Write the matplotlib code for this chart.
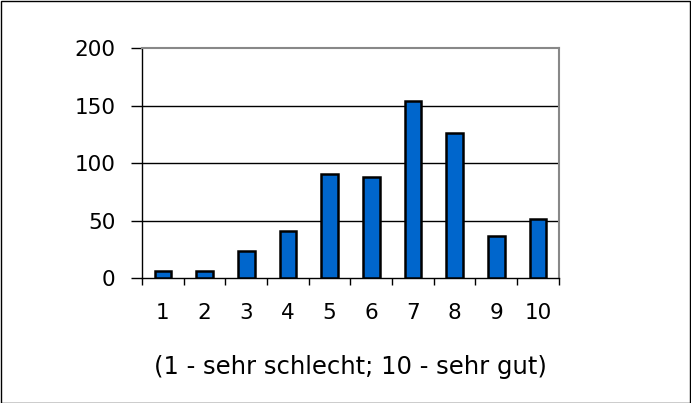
import matplotlib
matplotlib.use("Agg")
import matplotlib.pyplot as plt
from matplotlib.patches import Rectangle

categories = ["1", "2", "3", "4", "5", "6", "7", "8", "9", "10"]
values = [6, 6, 24, 41, 91, 88, 154, 126, 37, 52]
yticks = [0, 50, 100, 150, 200]
xlabel = "(1 - sehr schlecht; 10 - sehr gut)"

plt.rcParams['font.family'] = ['DejaVu Sans']

W, H = 691, 403
fig = plt.figure(figsize=(W / 100, H / 100), dpi=100)
ax = fig.add_axes([142 / W, 1 - 278.3 / H, (558.7 - 142) / W, (278.3 - 48.3) / H])

x = list(range(1, len(categories) + 1))
ax.bar(x, values, width=0.4, color="#0066CC", edgecolor="black", linewidth=1.8, zorder=3)

ax.set_xlim(0.5, len(categories) + 0.5)
ax.set_ylim(0, 200)
ax.set_yticks(yticks)
ax.set_yticklabels([str(v) for v in yticks], fontsize=15.5)
ax.set_xticks(x)
ax.set_xticklabels(categories, fontsize=15.5)
ax.set_xticks([i + 0.5 for i in range(0, len(categories) + 1)], minor=True)
ax.tick_params(axis='x', which='major', length=0, pad=18)
ax.tick_params(axis='x', which='minor', length=5, width=1, direction='out', color='black')
ax.tick_params(axis='y', which='major', length=8, width=1, direction='out', pad=11)

for v in yticks[1:-1]:
    ax.axhline(v, color='black', linewidth=1, zorder=1)

for s in ['top', 'right']:
    ax.spines[s].set_color('#888888')
    ax.spines[s].set_linewidth(1.5)
for s in ['left', 'bottom']:
    ax.spines[s].set_color('black')
    ax.spines[s].set_linewidth(1)

ax.set_xlabel(xlabel, fontsize=17.5, labelpad=23)

fig.patches.append(Rectangle((0.5 / W, 0.5 / H), 1 - 1.5 / W, 1 - 1.5 / H, transform=fig.transFigure,
                             fill=False, edgecolor='black', linewidth=1))

fig.savefig("out.png", dpi=100)
